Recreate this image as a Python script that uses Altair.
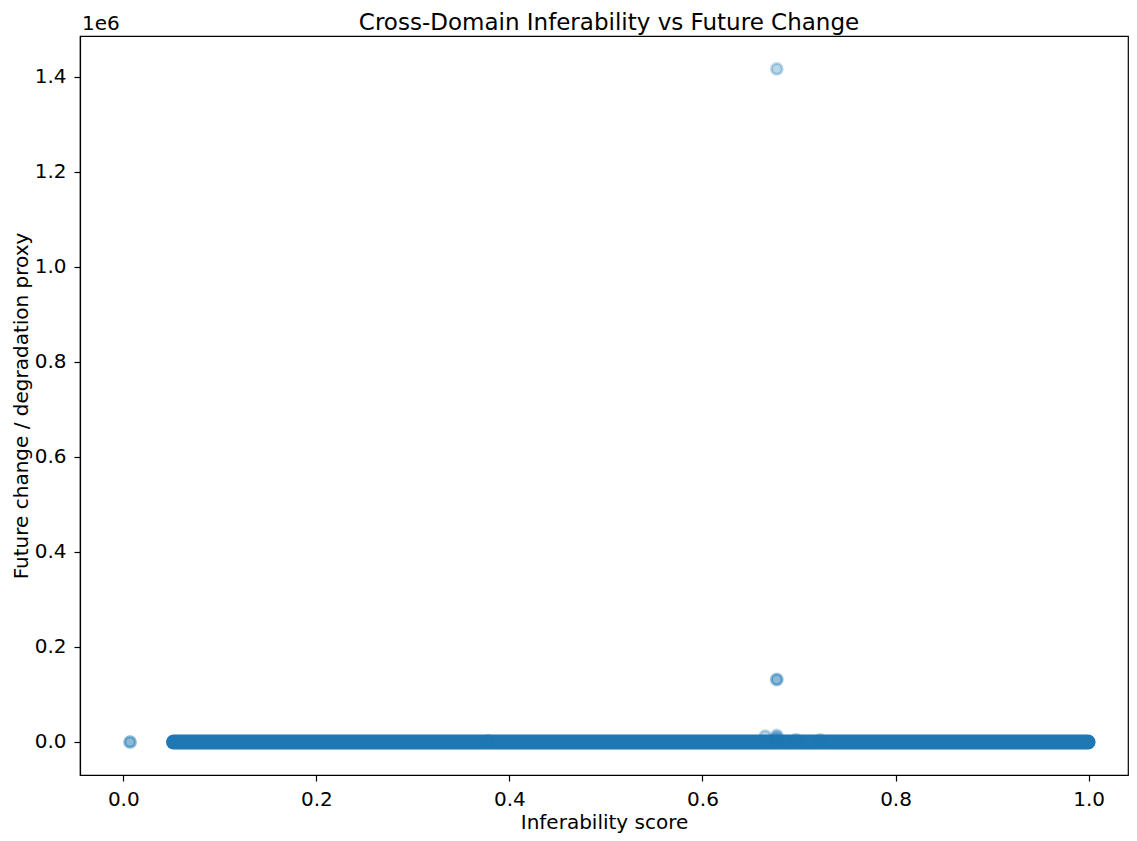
import altair as alt
import pandas as pd

# Dense band of points at y ~ 0 (drawn as a continuous band between its end points)
band_x = [0.052, 0.9995]
band_y = [0.0, 0.0]

# Individually visible points (outliers and bumps above the band)
pts_x = [0.007, 0.007, 0.677, 0.677, 0.677, 0.665, 0.677, 0.677, 0.677, 0.697, 0.722, 0.378]
pts_y = [0.0, 0.0, 1417000.0, 131000.0, 132000.0, 12500.0, 14000.0, 10000.0, 6000.0, 5000.0, 4500.0, 3000.0]

x_ticks = [0.0, 0.2, 0.4, 0.6, 0.8, 1.0]
y_ticks = [0, 200000, 400000, 600000, 800000, 1000000, 1200000, 1400000]

x_domain = [-0.04486, 1.04082]
y_domain = [-69500, 1486300]

TITLE = "Cross-Domain Inferability vs Future Change"
X_TITLE = "Inferability score"
Y_TITLE = "Future change / degradation proxy"
OFFSET = "1e6"

BLUE = "#1f77b4"
FONT = "DejaVu Sans"
W, H = 1048, 739

band_df = pd.DataFrame({"x": [band_x[0]], "x2": [band_x[1]], "y": [band_y[0]]})
pts_df = pd.DataFrame({"x": pts_x, "y": pts_y})
txt_df = pd.DataFrame({"t": [OFFSET]})
title_df = pd.DataFrame({"t": [TITLE]})

xs = alt.Scale(domain=x_domain, nice=False, zero=False)
ys = alt.Scale(domain=y_domain, nice=False, zero=False)

x_axis = alt.Axis(values=x_ticks, format=".1f", title=X_TITLE, grid=False,
                  tickSize=6, labelPadding=8, titlePadding=3)
y_axis = alt.Axis(values=y_ticks, labelExpr="format(datum.value / 1000000, '.1f')",
                  title=Y_TITLE, grid=False,
                  tickSize=6, labelPadding=8, titlePadding=3)

band = alt.Chart(band_df).mark_rule(color=BLUE, strokeWidth=15, strokeCap="round").encode(
    x=alt.X("x:Q", scale=xs, axis=x_axis),
    x2="x2:Q",
    y=alt.Y("y:Q", scale=ys, axis=y_axis),
)

points = alt.Chart(pts_df).mark_circle(
    size=113, fill=BLUE, stroke=BLUE, strokeWidth=3, fillOpacity=0.3, strokeOpacity=0.3
).encode(
    x=alt.X("x:Q", scale=xs),
    y=alt.Y("y:Q", scale=ys),
)

offset_text = alt.Chart(txt_df).mark_text(
    align="left", baseline="alphabetic", fontSize=20, font=FONT, color="black"
).encode(x=alt.value(2), y=alt.value(-6), text="t:N")

title_text = alt.Chart(title_df).mark_text(
    align="center", baseline="alphabetic", fontSize=23, font=FONT, color="black"
).encode(x=alt.value(529), y=alt.value(-6), text="t:N")

chart = alt.layer(band, points, offset_text, title_text).properties(
    width=W,
    height=H,
    autosize="none",
    padding={"left": 72, "top": 28, "right": 1, "bottom": 58},
).configure_view(stroke="black", strokeWidth=1.2).configure_axis(
    labelFont=FONT, titleFont=FONT, labelFontSize=20, titleFontSize=20,
    labelColor="black", titleColor="black", tickColor="black", domainColor="black",
    titleFontWeight="normal", domainWidth=1.2, tickWidth=1.2,
)

chart.save("out.html", embed_options={"renderer": "svg", "actions": False})
